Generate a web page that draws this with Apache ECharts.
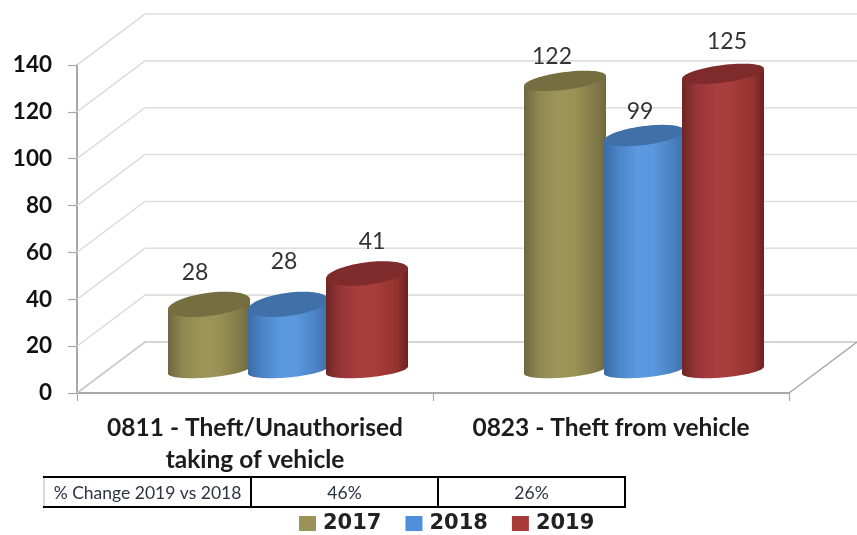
<!DOCTYPE html>
<html><head><meta charset="utf-8">
<style>html,body{margin:0;padding:0;background:#fff}#c{width:857px;height:535px}</style>
<script src="https://cdn.jsdelivr.net/npm/echarts@6/dist/echarts.min.js"></script>
</head><body><div id="c"></div>
<script>
const categories = ['0811 - Theft/Unauthorised\ntaking of vehicle', '0823 - Theft from vehicle'];
const years = ['2017', '2018', '2019'];
const values2017 = [28, 122];
const values2018 = [28, 99];
const values2019 = [41, 125];
const yTicks = [0, 20, 40, 60, 80, 100, 120, 140];
const tableCells = ['% Change 2019 vs 2018', '46%', '26%'];

// drawing configuration
const depth = { x: 68, y: -51 };
const barLift = 22, baseLift = 23, rise = 1.015, barShift = 33, barStep = 79, barRx = 41;
const baseRy = 7.5, tilt = 5, baseTilt = 3.5;
const labelNudge = [[[-14, -32], [-13, -24]], [[-4, -43], [-4, -24]], [[5, -32], [4, -32]]];
const palette = [
  { main: '#9B9257', top: '#756E40', stops: ['#6E6842', '#8F8750', '#9E9559', '#9A9156', '#827A49', '#70693F'] },
  { main: '#4F8FDB', top: '#3F70A8', stops: ['#3A6BA6', '#4C85C8', '#5B99E0', '#5A97DE', '#4A80C0', '#3D70AA'] },
  { main: '#A83A3A', top: '#7F2B2B', stops: ['#6F2524', '#97363A', '#A83E3D', '#A63C3B', '#93322F', '#6B2222'] }
];
const stopAt = [0, 0.18, 0.42, 0.62, 0.87, 1];

function makeBarSeries(idx, values) {
  const c = palette[idx];
  return {
    type: 'custom', name: years[idx], z: 5 + idx,
    itemStyle: { color: c.main },
    data: values.map((v, i) => [i, v]),
    encode: { x: 0, y: 1 },
    renderItem(params, api) {
      const cat = api.value(0), val = api.value(1);
      const pt = api.coord([cat, val]);
      const base = api.coord([cat, 0]);
      const cx = pt[0] + barShift + (idx - 1) * barStep;
      const yTop = base[1] - barLift - (base[1] - pt[1]) * rise;
      const yBase = base[1] - baseLift;
      const rx = idx === 1 ? barRx - 1 : barRx;
      const topRy = 12.5 - 0.03 * (base[1] - pt[1]) / 2.343;
      const body = [[cx - rx, yTop + tilt], [cx + rx, yTop - tilt]];
      const ell = [];
      for (let k = 0; k <= 40; k++) {
        const t = Math.PI * k / 40;
        body.push([cx + rx * Math.cos(t), yBase + baseRy * Math.sin(t) - baseTilt * Math.cos(t)]);
      }
      for (let k = 0; k < 72; k++) {
        const t = 2 * Math.PI * k / 72;
        ell.push([cx + rx * Math.cos(t), yTop + topRy * Math.sin(t) - tilt * Math.cos(t)]);
      }
      const grad = new echarts.graphic.LinearGradient(0, 0, 1, 0,
        c.stops.map((col, i) => ({ offset: stopAt[i], color: col })));
      const nudge = labelNudge[idx][cat];
      return {
        type: 'group',
        children: [
          { type: 'polygon', shape: { points: body }, style: { fill: grad } },
          { type: 'polygon', shape: { points: ell }, style: { fill: c.top } },
          { type: 'text', z2: 50, style: {
              text: String(val), x: cx + nudge[0], y: yTop + nudge[1],
              align: 'center', verticalAlign: 'middle',
              font: '23px Lato, "Noto Sans", sans-serif', fill: '#333' } }
        ]
      };
    }
  };
}

const wallSeries = {
  type: 'custom', z: 1, silent: true,
  data: yTicks.map(v => [0, v]),
  encode: { x: 0, y: 1 },
  renderItem(params, api) {
    const v = api.value(1), y = api.coord([0, v])[1];
    const x0 = params.coordSys.x, x1 = x0 + params.coordSys.width, W = api.getWidth();
    const col = v === 0 ? '#c8c8c8' : '#dedede';
    const kids = [{ type: 'polyline',
      shape: { points: [[x0, y], [x0 + depth.x, y + depth.y], [W, y + depth.y]] },
      style: { stroke: col, lineWidth: 1.6, fill: 'none' } }];
    if (v === 0) kids.push({ type: 'line',
      shape: { x1: x1, y1: y, x2: x1 + depth.x, y2: y + depth.y },
      style: { stroke: '#a8a8a8', lineWidth: 1.4 } });
    return { type: 'group', children: kids };
  }
};

const tableX = [44, 251, 438, 625], tableTop = 477, tableBottom = 507;
const tableFont = '17.5px Lato, "Noto Sans", sans-serif';
const tableGraphic = [
  { type: 'line', shape: { x1: 44, y1: tableTop, x2: 44, y2: tableBottom }, style: { stroke: '#b5b5b5', lineWidth: 1 } },
  { type: 'line', shape: { x1: 43, y1: tableTop, x2: 626, y2: tableTop }, style: { stroke: '#000', lineWidth: 2 } },
  { type: 'line', shape: { x1: 43, y1: tableBottom, x2: 626, y2: tableBottom }, style: { stroke: '#000', lineWidth: 2 } }
];
tableX.slice(1).forEach(x => tableGraphic.push({ type: 'line',
  shape: { x1: x, y1: tableTop, x2: x, y2: tableBottom }, style: { stroke: '#000', lineWidth: 2 } }));
tableCells.forEach((t, i) => tableGraphic.push({ type: 'text', style: {
  text: t, x: (tableX[i] + tableX[i + 1]) / 2, y: (tableTop + tableBottom) / 2 + 1,
  align: 'center', verticalAlign: 'middle', font: tableFont, fill: '#2b3440' } }));

const chart = echarts.init(document.getElementById('c'), null, { renderer: 'canvas' });
chart.setOption({
  animation: false,
  backgroundColor: '#ffffff',
  grid: { left: 77, right: 68, top: 65, height: 328 },
  legend: {
    left: 294, top: 508, itemWidth: 17, itemHeight: 15, itemGap: 24, icon: 'rect',
    data: years, selectedMode: false,
    textStyle: { fontFamily: '"DejaVu Sans"', fontWeight: 'bold', fontSize: 21, color: '#222', padding: [0, 0, 0, 2] },
    itemStyle: { borderWidth: 0 }
  },
  xAxis: {
    type: 'category', data: categories,
    axisLine: { lineStyle: { color: '#a8a8a8', width: 2 } },
    axisTick: { show: true, length: 8, lineStyle: { color: '#a8a8a8', width: 1.2 } },
    axisLabel: { interval: 0, margin: 19, lineHeight: 32, color: '#1c1c1c',
      fontFamily: 'Lato', fontWeight: 'bold', fontSize: 24.5 },
    splitLine: { show: false }
  },
  yAxis: {
    type: 'value', min: 0, max: 140, interval: 20,
    axisLine: { show: true, lineStyle: { color: '#a8a8a8', width: 2 } },
    axisTick: { show: true, length: 9, lineStyle: { color: '#a8a8a8', width: 1.2 } },
    axisLabel: { margin: 25, color: '#111', fontFamily: 'Lato', fontWeight: 'bold', fontSize: 22.5,
      formatter: v => String(v) },
    splitLine: { show: false }
  },
  series: [wallSeries, makeBarSeries(0, values2017), makeBarSeries(1, values2018), makeBarSeries(2, values2019)],
  graphic: tableGraphic
});
</script></body></html>
